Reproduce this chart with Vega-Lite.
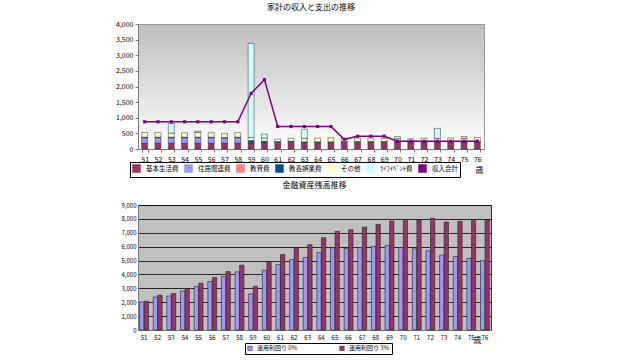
{
  "$schema": "https://vega.github.io/schema/vega-lite/v6.json",
  "background": "white",
  "padding": {"left": 115, "top": 3, "right": 0, "bottom": 0},
  "config": {
    "font": "Noto Sans CJK JP",
    "axis": {"labelFontSize": 7, "labelColor": "#000", "domainColor": "#777", "tickColor": "#777", "tickSize": 3, "labelPadding": 2, "labelOverlap": false},
    "concat": {"spacing": 3}
  },
  "resolve": {"scale": {"color": "independent", "x": "independent", "y": "independent"}, "legend": {"color": "independent"}},
  "datasets": {
    "spend": [
      {"age": "51", "cat": "基本生活費", "k": 1, "v": 190}, {"age": "51", "cat": "住居関連費", "k": 2, "v": 170}, {"age": "51", "cat": "教養娯楽費", "k": 4, "v": 20}, {"age": "51", "cat": "その他", "k": 5, "v": 150},
      {"age": "52", "cat": "基本生活費", "k": 1, "v": 190}, {"age": "52", "cat": "住居関連費", "k": 2, "v": 170}, {"age": "52", "cat": "教養娯楽費", "k": 4, "v": 20}, {"age": "52", "cat": "その他", "k": 5, "v": 150},
      {"age": "53", "cat": "基本生活費", "k": 1, "v": 190}, {"age": "53", "cat": "住居関連費", "k": 2, "v": 170}, {"age": "53", "cat": "教養娯楽費", "k": 4, "v": 20}, {"age": "53", "cat": "その他", "k": 5, "v": 130}, {"age": "53", "cat": "ﾗｲﾌｲﾍﾞﾝﾄ費", "k": 6, "v": 310},
      {"age": "54", "cat": "基本生活費", "k": 1, "v": 190}, {"age": "54", "cat": "住居関連費", "k": 2, "v": 170}, {"age": "54", "cat": "教養娯楽費", "k": 4, "v": 20}, {"age": "54", "cat": "その他", "k": 5, "v": 140},
      {"age": "55", "cat": "基本生活費", "k": 1, "v": 190}, {"age": "55", "cat": "住居関連費", "k": 2, "v": 170}, {"age": "55", "cat": "教養娯楽費", "k": 4, "v": 20}, {"age": "55", "cat": "その他", "k": 5, "v": 150}, {"age": "55", "cat": "ﾗｲﾌｲﾍﾞﾝﾄ費", "k": 6, "v": 40},
      {"age": "56", "cat": "基本生活費", "k": 1, "v": 190}, {"age": "56", "cat": "住居関連費", "k": 2, "v": 170}, {"age": "56", "cat": "教養娯楽費", "k": 4, "v": 20}, {"age": "56", "cat": "その他", "k": 5, "v": 140},
      {"age": "57", "cat": "基本生活費", "k": 1, "v": 190}, {"age": "57", "cat": "住居関連費", "k": 2, "v": 160}, {"age": "57", "cat": "教養娯楽費", "k": 4, "v": 20}, {"age": "57", "cat": "その他", "k": 5, "v": 130},
      {"age": "58", "cat": "基本生活費", "k": 1, "v": 190}, {"age": "58", "cat": "住居関連費", "k": 2, "v": 170}, {"age": "58", "cat": "教養娯楽費", "k": 4, "v": 20}, {"age": "58", "cat": "その他", "k": 5, "v": 150},
      {"age": "59", "cat": "基本生活費", "k": 1, "v": 180}, {"age": "59", "cat": "教養娯楽費", "k": 4, "v": 90}, {"age": "59", "cat": "その他", "k": 5, "v": 100}, {"age": "59", "cat": "ﾗｲﾌｲﾍﾞﾝﾄ費", "k": 6, "v": 3010},
      {"age": "60", "cat": "基本生活費", "k": 1, "v": 180}, {"age": "60", "cat": "教養娯楽費", "k": 4, "v": 70}, {"age": "60", "cat": "その他", "k": 5, "v": 100}, {"age": "60", "cat": "ﾗｲﾌｲﾍﾞﾝﾄ費", "k": 6, "v": 130},
      {"age": "61", "cat": "基本生活費", "k": 1, "v": 170}, {"age": "61", "cat": "住居関連費", "k": 2, "v": 30}, {"age": "61", "cat": "教養娯楽費", "k": 4, "v": 40}, {"age": "61", "cat": "その他", "k": 5, "v": 80},
      {"age": "62", "cat": "基本生活費", "k": 1, "v": 180}, {"age": "62", "cat": "住居関連費", "k": 2, "v": 30}, {"age": "62", "cat": "教養娯楽費", "k": 4, "v": 40}, {"age": "62", "cat": "その他", "k": 5, "v": 90},
      {"age": "63", "cat": "基本生活費", "k": 1, "v": 210}, {"age": "63", "cat": "教養娯楽費", "k": 4, "v": 20}, {"age": "63", "cat": "その他", "k": 5, "v": 110}, {"age": "63", "cat": "ﾗｲﾌｲﾍﾞﾝﾄ費", "k": 6, "v": 290},
      {"age": "64", "cat": "基本生活費", "k": 1, "v": 210}, {"age": "64", "cat": "教養娯楽費", "k": 4, "v": 20}, {"age": "64", "cat": "その他", "k": 5, "v": 120},
      {"age": "65", "cat": "基本生活費", "k": 1, "v": 210}, {"age": "65", "cat": "教養娯楽費", "k": 4, "v": 20}, {"age": "65", "cat": "その他", "k": 5, "v": 130},
      {"age": "66", "cat": "基本生活費", "k": 1, "v": 220}, {"age": "66", "cat": "教養娯楽費", "k": 4, "v": 20}, {"age": "66", "cat": "その他", "k": 5, "v": 100},
      {"age": "67", "cat": "基本生活費", "k": 1, "v": 220}, {"age": "67", "cat": "教養娯楽費", "k": 4, "v": 20}, {"age": "67", "cat": "その他", "k": 5, "v": 110},
      {"age": "68", "cat": "基本生活費", "k": 1, "v": 220}, {"age": "68", "cat": "教養娯楽費", "k": 4, "v": 20}, {"age": "68", "cat": "その他", "k": 5, "v": 110},
      {"age": "69", "cat": "基本生活費", "k": 1, "v": 220}, {"age": "69", "cat": "教養娯楽費", "k": 4, "v": 20}, {"age": "69", "cat": "その他", "k": 5, "v": 100},
      {"age": "70", "cat": "基本生活費", "k": 1, "v": 220}, {"age": "70", "cat": "教養娯楽費", "k": 4, "v": 20}, {"age": "70", "cat": "その他", "k": 5, "v": 90}, {"age": "70", "cat": "ﾗｲﾌｲﾍﾞﾝﾄ費", "k": 6, "v": 70},
      {"age": "71", "cat": "基本生活費", "k": 1, "v": 220}, {"age": "71", "cat": "教養娯楽費", "k": 4, "v": 20}, {"age": "71", "cat": "その他", "k": 5, "v": 90},
      {"age": "72", "cat": "基本生活費", "k": 1, "v": 220}, {"age": "72", "cat": "教養娯楽費", "k": 4, "v": 20}, {"age": "72", "cat": "その他", "k": 5, "v": 110},
      {"age": "73", "cat": "基本生活費", "k": 1, "v": 220}, {"age": "73", "cat": "教養娯楽費", "k": 4, "v": 20}, {"age": "73", "cat": "その他", "k": 5, "v": 100}, {"age": "73", "cat": "ﾗｲﾌｲﾍﾞﾝﾄ費", "k": 6, "v": 320},
      {"age": "74", "cat": "基本生活費", "k": 1, "v": 220}, {"age": "74", "cat": "教養娯楽費", "k": 4, "v": 20}, {"age": "74", "cat": "その他", "k": 5, "v": 110},
      {"age": "75", "cat": "基本生活費", "k": 1, "v": 220}, {"age": "75", "cat": "教養娯楽費", "k": 4, "v": 20}, {"age": "75", "cat": "その他", "k": 5, "v": 100}, {"age": "75", "cat": "ﾗｲﾌｲﾍﾞﾝﾄ費", "k": 6, "v": 60},
      {"age": "76", "cat": "基本生活費", "k": 1, "v": 220}, {"age": "76", "cat": "教養娯楽費", "k": 4, "v": 20}, {"age": "76", "cat": "その他", "k": 5, "v": 130}
    ],
    "income": [
      {"age": "51", "v": 870}, {"age": "52", "v": 870}, {"age": "53", "v": 870}, {"age": "54", "v": 870}, {"age": "55", "v": 870},
      {"age": "56", "v": 870}, {"age": "57", "v": 870}, {"age": "58", "v": 870}, {"age": "59", "v": 1780}, {"age": "60", "v": 2220},
      {"age": "61", "v": 720}, {"age": "62", "v": 720}, {"age": "63", "v": 720}, {"age": "64", "v": 720}, {"age": "65", "v": 720},
      {"age": "66", "v": 310}, {"age": "67", "v": 410}, {"age": "68", "v": 410}, {"age": "69", "v": 410}, {"age": "70", "v": 250},
      {"age": "71", "v": 250}, {"age": "72", "v": 250}, {"age": "73", "v": 250}, {"age": "74", "v": 250}, {"age": "75", "v": 250}, {"age": "76", "v": 250}
    ],
    "assets": [
      {"age": "51", "s": "運用利回り 0%", "v": 2020}, {"age": "51", "s": "運用利回り 3%", "v": 2070},
      {"age": "52", "s": "運用利回り 0%", "v": 2380}, {"age": "52", "s": "運用利回り 3%", "v": 2500},
      {"age": "53", "s": "運用利回り 0%", "v": 2450}, {"age": "53", "s": "運用利回り 3%", "v": 2620},
      {"age": "54", "s": "運用利回り 0%", "v": 2810}, {"age": "54", "s": "運用利回り 3%", "v": 2980},
      {"age": "55", "s": "運用利回り 0%", "v": 3130}, {"age": "55", "s": "運用利回り 3%", "v": 3370},
      {"age": "56", "s": "運用利回り 0%", "v": 3490}, {"age": "56", "s": "運用利回り 3%", "v": 3780},
      {"age": "57", "s": "運用利回り 0%", "v": 3850}, {"age": "57", "s": "運用利回り 3%", "v": 4210},
      {"age": "58", "s": "運用利回り 0%", "v": 4190}, {"age": "58", "s": "運用利回り 3%", "v": 4670},
      {"age": "59", "s": "運用利回り 0%", "v": 2600}, {"age": "59", "s": "運用利回り 3%", "v": 3150},
      {"age": "60", "s": "運用利回り 0%", "v": 4310}, {"age": "60", "s": "運用利回り 3%", "v": 4930},
      {"age": "61", "s": "運用利回り 0%", "v": 4720}, {"age": "61", "s": "運用利回り 3%", "v": 5440},
      {"age": "62", "s": "運用利回り 0%", "v": 5080}, {"age": "62", "s": "運用利回り 3%", "v": 5920},
      {"age": "63", "s": "運用利回り 0%", "v": 5220}, {"age": "63", "s": "運用利回り 3%", "v": 6140},
      {"age": "64", "s": "運用利回り 0%", "v": 5580}, {"age": "64", "s": "運用利回り 3%", "v": 6640},
      {"age": "65", "s": "運用利回り 0%", "v": 5920}, {"age": "65", "s": "運用利回り 3%", "v": 7100},
      {"age": "66", "s": "運用利回り 0%", "v": 5870}, {"age": "66", "s": "運用利回り 3%", "v": 7220},
      {"age": "67", "s": "運用利回り 0%", "v": 5940}, {"age": "67", "s": "運用利回り 3%", "v": 7410},
      {"age": "68", "s": "運用利回り 0%", "v": 6020}, {"age": "68", "s": "運用利回り 3%", "v": 7600},
      {"age": "69", "s": "運用利回り 0%", "v": 6090}, {"age": "69", "s": "運用利回り 3%", "v": 7840},
      {"age": "70", "s": "運用利回り 0%", "v": 5940}, {"age": "70", "s": "運用利回り 3%", "v": 7870},
      {"age": "71", "s": "運用利回り 0%", "v": 5850}, {"age": "71", "s": "運用利回り 3%", "v": 7940},
      {"age": "72", "s": "運用利回り 0%", "v": 5700}, {"age": "72", "s": "運用利回り 3%", "v": 8040},
      {"age": "73", "s": "運用利回り 0%", "v": 5390}, {"age": "73", "s": "運用利回り 3%", "v": 7770},
      {"age": "74", "s": "運用利回り 0%", "v": 5290}, {"age": "74", "s": "運用利回り 3%", "v": 7820},
      {"age": "75", "s": "運用利回り 0%", "v": 5150}, {"age": "75", "s": "運用利回り 3%", "v": 7870},
      {"age": "76", "s": "運用利回り 0%", "v": 5000}, {"age": "76", "s": "運用利回り 3%", "v": 7920}
    ]
  },
  "vconcat": [
    {
      "width": 346,
      "height": 125,
      "title": {"text": "家計の収入と支出の推移", "fontSize": 8, "fontWeight": "normal", "offset": 8, "color": "#000"},
      "view": {
        "stroke": "#999",
        "fill": {"gradient": "linear", "x1": 0, "y1": 0, "x2": 0, "y2": 1, "stops": [{"offset": 0, "color": "#BEBEBE"}, {"offset": 1, "color": "#FFFFFF"}]}
      },
      "layer": [
        {
          "data": {"name": "spend"},
          "mark": {"type": "bar", "stroke": "#333", "strokeWidth": 0.5},
          "encoding": {
            "x": {"field": "age", "type": "ordinal", "scale": {"paddingInner": 0.55, "paddingOuter": 0.275},
              "axis": {"title": "歳", "titleFontSize": 8, "titleFontWeight": "normal", "titleX": 337, "titleY": 21, "titleAlign": "left", "titleBaseline": "middle", "labelAngle": 0, "tickBand": "extent", "labelPadding": 3}},
            "y": {"field": "v", "type": "quantitative", "stack": "zero", "scale": {"domain": [0, 4000]},
              "axis": {"title": null, "format": ",.0f", "values": [0, 500, 1000, 1500, 2000, 2500, 3000, 3500, 4000], "grid": false, "labelOverlap": false}},
            "order": {"field": "k", "type": "quantitative", "sort": "ascending"},
            "color": {
              "field": "cat", "type": "nominal",
              "scale": {"domain": ["基本生活費", "住居関連費", "教育費", "教養娯楽費", "その他", "ﾗｲﾌｲﾍﾞﾝﾄ費", "収入合計"],
                "range": ["#993366", "#9999FF", "#FF8080", "#0B4C9C", "#FFFFCC", "#CCFFFF", "#800080"]},
              "legend": {
                "orient": "none", "legendX": -8, "legendY": 138, "direction": "horizontal", "columns": 7, "title": null,
                "strokeColor": "#000", "padding": 2,
                "labelFontSize": 6.5, "labelColor": "#000", "symbolSize": 49, "columnPadding": 3, "labelOffset": 5,
                "encode": {"symbols": {"update": {
                  "shape": {"signal": "datum.value === '収入合計' ? 'M-1.9,0H1.9M-0.45,-0.45H0.45V0.45H-0.45Z' : 'M-1.9,-0.55H1.9V0.55H-1.9Z'"},
                  "stroke": {"signal": "datum.value === '収入合計' ? '#800080' : '#222'"},
                  "strokeWidth": {"signal": "datum.value === '収入合計' ? 1.5 : 0.6"}
                }}}
              }
            }
          }
        },
        {
          "data": {"name": "income"},
          "mark": {"type": "line", "strokeWidth": 1.5, "point": {"shape": "square", "size": 10, "filled": true, "color": "#800080"}},
          "encoding": {
            "x": {"field": "age", "type": "ordinal"},
            "y": {"field": "v", "type": "quantitative",
              "axis": {"title": null, "format": ",.0f", "values": [0, 500, 1000, 1500, 2000, 2500, 3000, 3500, 4000], "grid": false, "labelOverlap": false}},
            "color": {"datum": "収入合計", "type": "nominal"}
          }
        }
      ]
    },
    {
      "width": 353,
      "height": 125,
      "title": {"text": "金融資産残高推移", "fontSize": 8, "fontWeight": "normal", "offset": 12, "color": "#000"},
      "view": {"fill": "#C0C0C0", "stroke": "#333"},
      "data": {"name": "assets"},
      "mark": {"type": "bar", "stroke": "#222", "strokeWidth": 0.6},
      "encoding": {
        "x": {"field": "age", "type": "ordinal", "scale": {"paddingInner": 0.35, "paddingOuter": 0.12},
          "axis": {"title": "歳", "titleFontSize": 8, "titleFontWeight": "normal", "titleX": 335, "titleY": 10, "titleAlign": "left", "titleBaseline": "middle", "labelAngle": 0, "labelFontSize": 6, "ticks": false, "labelPadding": 4}},
        "xOffset": {"field": "s", "type": "nominal", "scale": {"paddingInner": 0.05}},
        "y": {"field": "v", "type": "quantitative", "scale": {"domain": [0, 9000]},
          "axis": {"title": null, "format": ",.0f", "values": [0, 1000, 2000, 3000, 4000, 5000, 6000, 7000, 8000, 9000], "grid": true, "gridColor": "#000", "gridWidth": 0.8, "labelFontSize": 6, "ticks": false}},
        "color": {"field": "s", "type": "nominal",
          "scale": {"domain": ["運用利回り 0%", "運用利回り 3%"], "range": ["#9999FF", "#993366"]},
          "legend": {"orient": "none", "legendX": 107, "legendY": 138, "direction": "horizontal", "title": null, "strokeColor": "#000", "padding": 2,
            "labelFontSize": 6, "labelColor": "#000", "symbolType": "square", "symbolSize": 20, "columnPadding": 40, "symbolStrokeColor": "#222", "symbolStrokeWidth": 0.5}
        }
      }
    }
  ]
}
